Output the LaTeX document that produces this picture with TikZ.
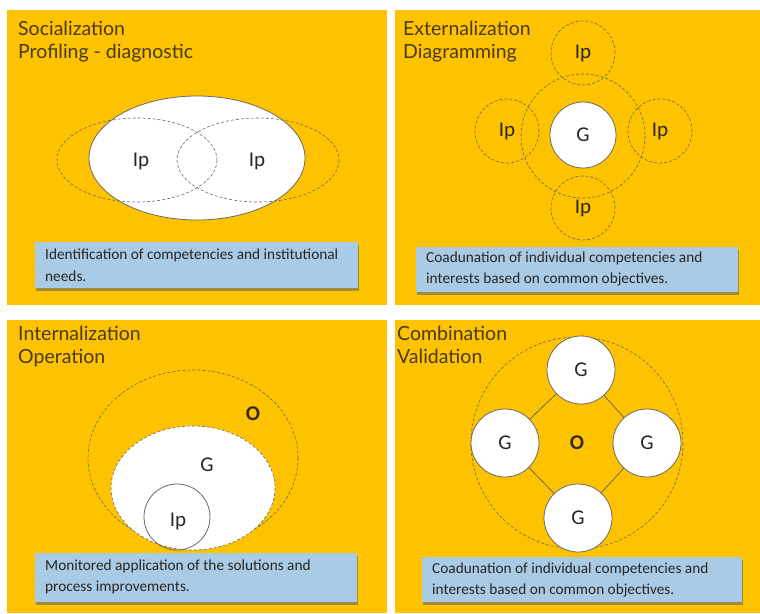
\documentclass[tikz,border=0pt]{standalone}
\usepackage{fontspec}
\setmainfont{Carlito}
\newfontfamily\titlefont{Lato}
\usetikzlibrary{shadows}
\definecolor{panelyellow}{HTML}{FDC200}
\definecolor{boxblue}{HTML}{A9CBE6}
\definecolor{titlebrown}{HTML}{4A3A22}
\definecolor{linegray}{HTML}{6E6A60}
\definecolor{textdark}{HTML}{2A2622}
\tikzset{
  panel/.style={fill=panelyellow, draw=none},
  ptitle/.style={anchor=north west, align=left, text=titlebrown, font=\titlefont\fontsize{19.5}{22.5}\selectfont, inner sep=0pt},
  infobox/.style={fill=boxblue, draw=none, drop shadow={shadow xshift=1pt, shadow yshift=-3pt, fill=black!60, opacity=0.6}},
  infotext/.style={anchor=west, align=left, text=textdark, font=\fontsize{15.3}{21.5}\selectfont, inner sep=0pt},
  dashring/.style={draw=linegray, densely dashed, line width=0.6pt},
  solidring/.style={draw=linegray, line width=0.8pt},
  lbl/.style={text=textdark, font=\fontsize{21}{22}\selectfont},
  olbl/.style={text=titlebrown!70!black, font=\bfseries\fontsize{21}{22}\selectfont},
  gcirc/.style={circle, minimum size=68pt, fill=white, draw=linegray, line width=0.8pt, text=textdark, font=\fontsize{21}{22}\selectfont},
  ipcirc/.style={circle, minimum size=64pt, draw=linegray, densely dashed, line width=0.6pt, text=textdark, font=\fontsize{21}{22}\selectfont}
}
\begin{document}
\begin{tikzpicture}[x=1pt,y=-1pt]
\useasboundingbox (0,0) rectangle (760,613);
\fill[white] (0,0) rectangle (760,613);
% panels
\fill[panel] (7,10) rectangle (387,305);
\fill[panel] (395,10) rectangle (760,305);
\fill[panel] (7,320) rectangle (387,613);
\fill[panel] (395,320) rectangle (760,613);

% ---------- Top-left: Socialization ----------
\node[ptitle] (t1) at (18,21) {Socialization\\Profiling - diagnostic};
\fill[white] (197,158) ellipse [x radius=108, y radius=62];
\draw[solidring] (197,158) ellipse [x radius=108, y radius=62];
\draw[dashring] (137,160) ellipse [x radius=80, y radius=42];
\draw[dashring] (258,160) ellipse [x radius=81, y radius=42];
\node[lbl] (ip1a) at (141,161) {Ip};
\node[lbl] (ip1b) at (257,161) {Ip};
\fill[infobox] (35,242) rectangle (358,288);
\node[infotext] (b1) at (45,265) {Identification of competencies and institutional\\needs.};

% ---------- Top-right: Externalization ----------
\node[ptitle] (t2) at (403,21) {Externalization\\Diagramming};
\draw[dashring] (583,136) circle [radius=62];
\node[ipcirc] (ipT) at (583,53) {Ip};
\node[ipcirc] (ipL) at (507,131) {Ip};
\node[ipcirc] (ipR) at (660,131) {Ip};
\node[ipcirc] (ipB) at (583,208) {Ip};
\node[gcirc, minimum size=66pt] (g2) at (583,135) {G};
\fill[infobox] (416,247) rectangle (738,292);
\node[infotext] (b2) at (426,269) {Coadunation of individual competencies and\\interests based on common objectives.};

% ---------- Bottom-left: Internalization ----------
\node[ptitle] (t3) at (18,326) {Internalization\\Operation};
\draw[dashring] (193,458) ellipse [x radius=105, y radius=88];
\fill[white] (193,488) ellipse [x radius=82, y radius=62];
\draw[dashring] (193,488) ellipse [x radius=82, y radius=62];
\node[circle, minimum size=66pt, draw=linegray, line width=0.8pt] (ip3) at (177,517) {};
\node[lbl] (ip3l) at (178,521) {Ip};
\node[olbl] (o3) at (253,414) {O};
\node[lbl] (g3) at (207,465) {G};
\fill[infobox] (35,553) rectangle (357,602);
\node[infotext] (b3) at (45,577) {Monitored application of the solutions and\\process improvements.};

% ---------- Bottom-right: Combination ----------
\node[ptitle] (t4) at (397,326) {Combination\\Validation};
\draw[dashring] (577,443) circle [radius=106];
\node[gcirc] (gT) at (581,370) {G};
\node[gcirc] (gL) at (505,443) {G};
\node[gcirc] (gR) at (647,443) {G};
\node[gcirc] (gB) at (578,518) {G};
\draw[linegray, line width=0.8pt] (gT) -- (gL) (gL) -- (gB) (gB) -- (gR) (gR) -- (gT);
\node[olbl] (o4) at (577,443) {O};
\fill[infobox] (422,557) rectangle (742,602);
\node[infotext] (b4) at (432,580) {Coadunation of individual competencies and\\interests based on common objectives.};
\end{tikzpicture}
\end{document}
